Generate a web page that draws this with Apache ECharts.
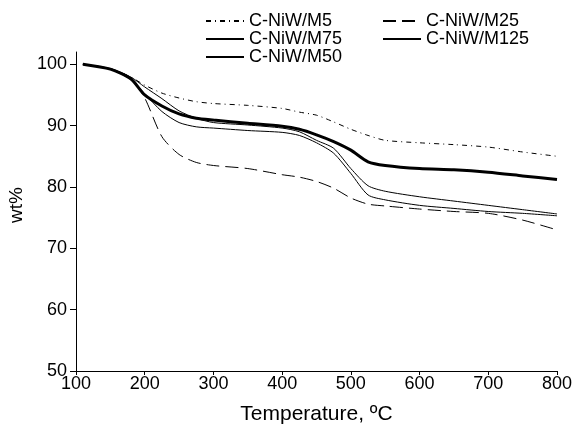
<!DOCTYPE html>
<html><head><meta charset="utf-8">
<script src="https://cdn.jsdelivr.net/npm/echarts@6/dist/echarts.min.js"></script>
<style>html,body{margin:0;padding:0;background:#fff}#c{width:572px;height:427px}</style>
</head><body><div id="c"></div>
<script>
var temps = [110,150,180,200,225,250,275,300,350,400,425,450,475,500,525,550,600,650,700,750,800];
var m5   = [100,99.3,97.9,96.6,95.3,94.5,93.9,93.6,93.3,92.8,92.2,91.7,90.6,89.4,88.4,87.6,87.2,86.9,86.5,85.7,85.0];
var m25  = [100,99.2,97.6,94.5,88.2,85.3,84.0,83.5,83.0,82.0,81.6,80.9,79.8,78.2,77.2,76.9,76.4,76.0,75.7,74.6,73.0];
var m75  = [100,99.2,97.5,95.2,92.3,90.5,89.8,89.6,89.2,88.9,88.4,87.2,85.5,82.2,78.7,77.9,77.0,76.5,76.0,75.7,75.3];
var m125 = [100,99.3,97.9,96.3,94.4,92.4,91.2,90.5,90.1,89.6,89.0,87.6,86.3,83.0,80.2,79.3,78.4,77.7,77.0,76.3,75.6];
var m50  = [100,99.2,97.6,95.0,93.2,91.9,91.2,90.9,90.4,89.9,89.4,88.5,87.4,86.0,84.1,83.5,83.0,82.8,82.4,81.8,81.2];
var yTicks = [50,60,70,80,90,100];
var xTicks = [100,200,300,400,500,600,700,800];

function pairs(v){ return temps.map(function(t,i){ return [t, v[i]]; }); }
var FONT = 'Liberation Sans, Arial, sans-serif';
function ser(name, v, type, width){
  return {name:name, type:'line', data:pairs(v), symbol:'none', smooth:0.25,
    lineStyle:{color:'#000', width:width, type:type}, itemStyle:{color:'#000'}, animation:false};
}
var legendBase = {orient:'vertical', padding:0, itemGap:0, itemWidth:38, itemHeight:12,
  itemStyle:{opacity:0, borderWidth:0},
  textStyle:{fontSize:18, color:'#000', fontFamily:FONT}};
var chart = echarts.init(document.getElementById('c'));
chart.setOption({
  backgroundColor:'#fff',
  animation:false,
  textStyle:{fontFamily:FONT},
  grid:{left:76, right:15, top:52, bottom:56, outerBoundsMode:'none', containLabel:false},
  legend:[
    Object.assign({left:205, top:12, data:['C-NiW/M5','C-NiW/M75','C-NiW/M50']}, legendBase),
    Object.assign({left:382, top:12, data:['C-NiW/M25','C-NiW/M125']}, legendBase)
  ],
  xAxis:{type:'value', min:100, max:800, interval:100,
    name:'Temperature, ºC', nameLocation:'middle', nameGap:33,
    nameTextStyle:{fontSize:21, color:'#000', fontFamily:FONT},
    axisLine:{lineStyle:{color:'#000', width:1}},
    axisTick:{show:true, length:4, lineStyle:{color:'#000'}},
    axisLabel:{fontSize:18, color:'#000', margin:4, fontFamily:FONT, customValues:xTicks},
    splitLine:{show:false}},
  yAxis:{type:'value', min:50, max:102, interval:10,
    name:'wt%', nameLocation:'middle', nameGap:46, nameRotate:90,
    nameTextStyle:{fontSize:19, color:'#000', fontFamily:FONT, padding:[0,0,0,13]},
    axisLine:{show:true, lineStyle:{color:'#000', width:1}},
    axisTick:{show:true, length:6, lineStyle:{color:'#000'}, customValues:yTicks},
    axisLabel:{fontSize:18, color:'#000', margin:9, fontFamily:FONT, customValues:yTicks},
    splitLine:{show:false}},
  series:[
    ser('C-NiW/M5', m5, [5,4,1,4], 1),
    ser('C-NiW/M25', m25, [13,6], 1),
    ser('C-NiW/M75', m75, 'solid', 1),
    ser('C-NiW/M125', m125, 'solid', 1),
    ser('C-NiW/M50', m50, 'solid', 3)
  ]
});
</script></body></html>
